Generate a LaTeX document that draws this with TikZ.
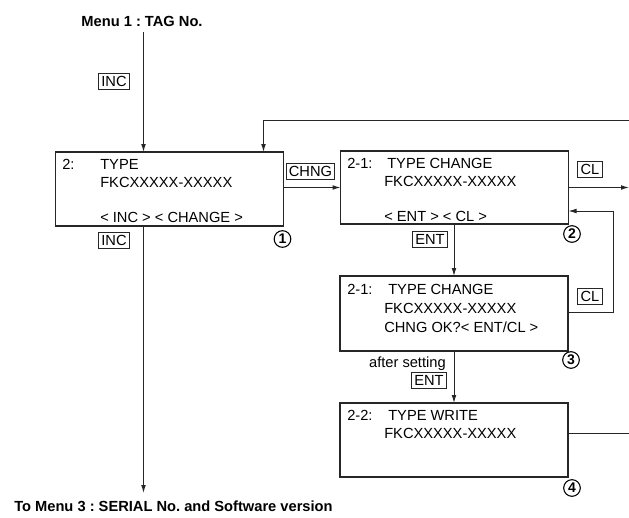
\documentclass[tikz,border=0pt]{standalone}
\usepackage{fontspec}
\setsansfont{Liberation Sans}
\usetikzlibrary{arrows.meta,calc}
\frenchspacing
\tikzset{
  screen/.style={draw=black!85, line width=1pt, inner sep=0pt, outer sep=0pt, minimum width=171pt},
  txt/.style={font=\sffamily\fontsize{11}{13}\selectfont, anchor=base west, inner sep=0pt},
  head/.style={font=\sffamily\bfseries\fontsize{11}{13}\selectfont, anchor=base west, inner sep=0pt},
  key/.style={draw=black!85, line width=0.7pt, font=\sffamily\fontsize{11}{13}\selectfont, inner xsep=2pt, inner ysep=2pt, text height=8pt, text depth=0pt},
  num/.style={circle, draw=black, line width=0.8pt, inner sep=0pt, minimum size=12.5pt, font=\sffamily\bfseries\fontsize{10.5}{10.5}\selectfont},
  arrow/.style={-{Latex[length=6pt,width=3.6pt]}, line width=0.75pt, draw=black!85},
  wire/.style={line width=0.75pt, draw=black!85}
}

\begin{document}
\begin{tikzpicture}[x=0.75pt, y=-0.75pt]
\useasboundingbox (0,0) rectangle (629,518);
% screens
\node[screen, minimum height=55.5pt] (scr1) at (169.5,189) {};
\node[screen, minimum height=54.75pt] (scr2) at (454.5,187.5) {};
\node[screen, minimum height=56.25pt] (scr3) at (454,313.5) {};
\node[screen, minimum height=55.5pt] (scr4) at (454,440) {};
% screen texts
\node[txt] (t1a) at (62,169) {2:};
\node[txt] (t1b) at (100,169) {TYPE};
\node[txt] (t1c) at (100,187) {FKCXXXXX-XXXXX};
\node[txt] (t1d) at (100,222.5) {< INC > < CHANGE >};
\node[txt] (t2a) at (347,168) {2-1:};
\node[txt] (t2b) at (387,168) {TYPE CHANGE};
\node[txt] (t2c) at (384,186) {FKCXXXXX-XXXXX};
\node[txt] (t2d) at (384,221.7) {< ENT > < CL >};
\node[txt] (t3a) at (347,294.3) {2-1:};
\node[txt] (t3b) at (388,294.3) {TYPE CHANGE};
\node[txt] (t3c) at (384,313) {FKCXXXXX-XXXXX};
\node[txt] (t3d) at (384,332.5) {CHNG OK?< ENT/CL >};
\node[txt] (t4a) at (347,420) {2-2:};
\node[txt] (t4b) at (388,420) {TYPE WRITE};
\node[txt] (t4c) at (384,438) {FKCXXXXX-XXXXX};
% menus
\node[head, anchor=base] (menu1) at (142,26.7) {Menu 1 : TAG No.};
\node[head] (menu3) at (14,511.5) {To Menu 3 : SERIAL No. and Software version};
% keys
\node[key] (incA) at (114,81.5) {INC};
\node[key] (incB) at (114,240) {INC};
\node[key] (chng) at (310.5,171.5) {CHNG};
\node[key] (clA) at (590,169) {CL};
\node[key] (entA) at (430,239) {ENT};
\node[key] (clB) at (590,296.5) {CL};
\node[key] (entB) at (429,380.5) {ENT};
\node[txt, anchor=base east] (after) at (446,367) {after setting};
% step numbers
\node[num] (n1) at (282.5,239) {1};
\node[num] (n2) at (572,234) {2};
\node[num] (n3) at (571,360) {3};
\node[num] (n4) at (572,488) {4};
% connectors
\coordinate (top) at (629,120);
\coordinate (down) at (143.5,493);
\coordinate (clout) at (629,187.5);
\coordinate (wout) at (629,433);
\draw[arrow, shorten <=4pt] (menu1.south -| down) -- (scr1.north -| down);
\draw[arrow] (top) -| ($(scr1.north east)+(-20,0)$);
\draw[arrow] (scr1.east |- scr2.west) -- (scr2.west);
\draw[arrow] (scr2.east) -- (clout);
\draw[arrow] (scr3.north |- scr2.south) -- (scr3.north);
\draw[arrow] ($(scr3.east)+(0,-1.5)$) -- ++(45,0) |- ($(scr2.south east)+(0,-13)$);
\draw[arrow] (scr3.south) -- (scr4.north);
\draw[wire] (wout -| scr4.east) -- (wout);
\draw[arrow] (scr1.south -| down) -- (down);
\end{tikzpicture}
\end{document}
